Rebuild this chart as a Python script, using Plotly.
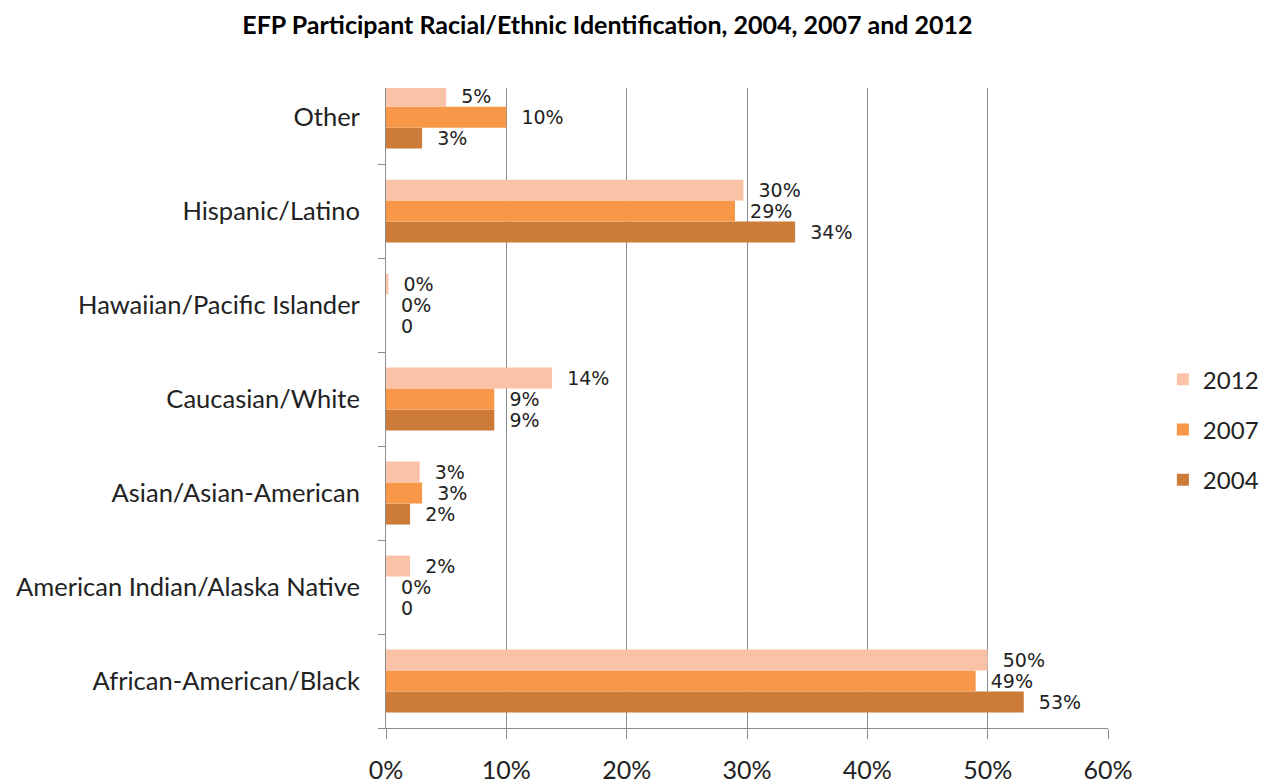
import plotly.graph_objects as go

categories = ["African-American/Black", "American Indian/Alaska Native", "Asian/Asian-American",
              "Caucasian/White", "Hawaiian/Pacific Islander", "Hispanic/Latino", "Other"]
years = ["2004", "2007", "2012"]
v2004 = [53, 0, 2, 9, 0, 34, 3]
v2007 = [49, 0, 3, 9, 0, 29, 10]
v2012 = [50, 2, 2.8, 13.8, 0.2, 29.7, 5]
lab2004 = ["53%", "0", "2%", "9%", "0", "34%", "3%"]
lab2007 = ["49%", "0%", "3%", "9%", "0%", "29%", "10%"]
lab2012 = ["50%", "2%", "3%", "14%", "0%", "30%", "5%"]
x_ticks = [0, 10, 20, 30, 40, 50, 60]
x_tick_labels = ["0%", "10%", "20%", "30%", "40%", "50%", "60%"]

colors = {"2004": "#CC7B38", "2007": "#F79747", "2012": "#FAC3A8"}
ranks = {"2012": 1, "2007": 2, "2004": 3}
series = {"2004": (v2004, lab2004), "2007": (v2007, lab2007), "2012": (v2012, lab2012)}

fig = go.Figure()
for yr in years:
    vals, labs = series[yr]
    fig.add_trace(go.Bar(
        y=categories, x=vals, name=yr, orientation="h",
        legendgroup=yr, legendrank=ranks[yr],
        marker=dict(color=colors[yr], line=dict(width=0)),
        text=["  " + t for t in labs], textposition="outside",
        constraintext="none", cliponaxis=False,
        textfont=dict(family="DejaVu Sans", size=19, color="#222222"),
        hoverinfo="skip",
    ))

fig.update_layout(
    width=1262, height=776,
    paper_bgcolor="white", plot_bgcolor="white",
    barmode="group", bargap=0.33, bargroupgap=0,
    margin=dict(l=378, r=162, t=80, b=56, autoexpand=False),
    title=dict(text="<b>EFP Participant Racial/Ethnic Identification, 2004, 2007 and 2012</b>",
               x=0.475, xanchor="center", y=0.978, yanchor="middle",
               font=dict(family="Lato", size=25, color="black")),
    legend=dict(x=1.076, y=0.466, xanchor="left", yanchor="middle",
                traceorder="grouped", font=dict(family="Lato", size=24, color="#222222"),
                itemwidth=30, tracegroupgap=16),
    showlegend=True,
)
fig.update_xaxes(range=[0, 60], tickvals=x_ticks, ticktext=x_tick_labels,
                 showgrid=True, gridcolor="#8C8C8C", gridwidth=1,
                 showline=True, linecolor="#8C8C8C", linewidth=1,
                 ticks="outside", ticklen=10, tickcolor="#8C8C8C",
                 tickfont=dict(family="Lato", size=25, color="#222222"),
                 ticklabelstandoff=10, zeroline=False, automargin=False)
fig.update_yaxes(range=[-0.5, 6.31], showline=True, linecolor="#8C8C8C", linewidth=1,
                 ticks="outside", ticklen=7, tickcolor="#8C8C8C", tickson="boundaries",
                 tickfont=dict(family="Lato", size=25.5, color="#222222"),
                 ticklabelstandoff=20, showgrid=False, automargin=False)

fig.write_html("out.html")
